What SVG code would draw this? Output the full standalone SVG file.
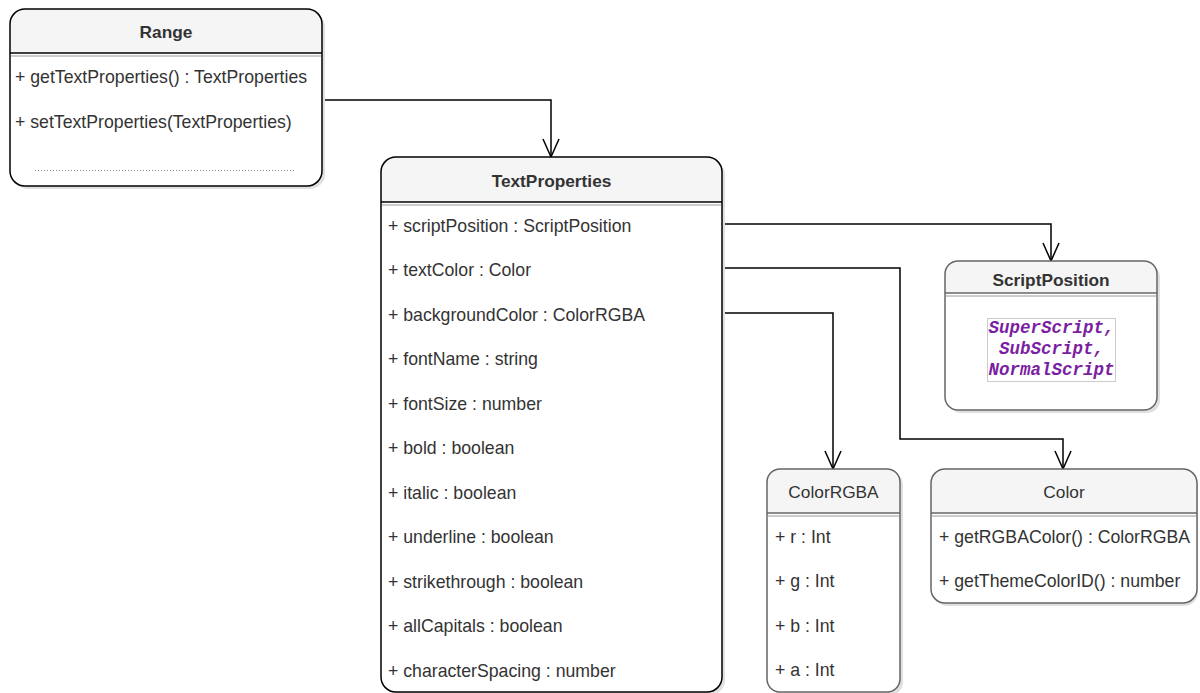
<svg xmlns="http://www.w3.org/2000/svg" width="1200" height="693" viewBox="0 0 1200 693">
<defs>
<marker id="arr" viewBox="-20 -10 22 20" refX="0" refY="0" markerWidth="22" markerHeight="20" markerUnits="userSpaceOnUse" orient="auto">
<path d="M-18,-8 L0,0 L-18,8" fill="none" stroke="#000" stroke-width="1.5"/>
</marker>
</defs>
<style>
text{font-family:"Liberation Sans",Arial,Helvetica,sans-serif;fill:#333;}
.t{font-size:17.3px;text-anchor:middle;}
.b{font-weight:bold;}
.i{font-size:17.7px;}
.sh{fill:#e0e0e0;}
.body{fill:#fff;}
.hd{fill:#f5f5f5;}
.o1{fill:none;stroke:#000;stroke-width:1.5;}
.o2{fill:none;stroke:#666;stroke-width:1.5;}
.sep1{stroke:#000;stroke-width:1.5;}
.sep2{stroke:#666;stroke-width:1.5;}
.sepg{stroke:#ccc;stroke-width:2;}
.c{fill:none;stroke:#000;stroke-width:1.5;marker-end:url(#arr);}
.enum{font-family:"Liberation Mono","Courier New",monospace;font-size:17.5px;font-weight:bold;font-style:italic;fill:#7b1fa2;text-anchor:middle;}
</style>

<g id="connectors">
<path class="c" d="M322,100 L551,100 L551,157"/>
<path class="c" d="M723,224 L1051,224 L1051,261"/>
<path class="c" d="M723,268 L900,268 L900,439 L1063,439 L1063,469"/>
<path class="c" d="M723,313 L833,313 L833,469"/>
</g>

<g id="range">
<rect class="sh" x="13" y="12" width="312" height="177" rx="15"/>
<rect class="body" x="10" y="9" width="312" height="177" rx="15"/>
<path class="hd" d="M10,53 L10,24 A15,15 0 0 1 25,9 L307,9 A15,15 0 0 1 322,24 L322,53 Z"/>
<line class="sep1" x1="10" y1="53" x2="322" y2="53"/>
<line class="sepg" x1="11" y1="56" x2="321" y2="56"/>
<rect class="o1" x="10" y="9" width="312" height="177" rx="15"/>
<text class="t b" x="166" y="38">Range</text>
<text class="i" x="15" y="83">+ getTextProperties() : TextProperties</text>
<text class="i" x="15" y="127.5">+ setTextProperties(TextProperties)</text>
<line x1="35" y1="170.5" x2="295" y2="170.5" stroke="#888" stroke-width="1" stroke-dasharray="1,2"/>
</g>

<g id="textproperties">
<rect class="sh" x="384" y="160" width="341" height="535" rx="15"/>
<rect class="body" x="381" y="157" width="341" height="535" rx="15"/>
<path class="hd" d="M381,202 L381,172 A15,15 0 0 1 396,157 L707,157 A15,15 0 0 1 722,172 L722,202 Z"/>
<line class="sep1" x1="381" y1="202" x2="722" y2="202"/>
<line class="sepg" x1="382" y1="205" x2="721" y2="205"/>
<rect class="o1" x="381" y="157" width="341" height="535" rx="15"/>
<text class="t b" x="551.5" y="187">TextProperties</text>
<text class="i" x="388" y="231.5">+ scriptPosition : ScriptPosition</text>
<text class="i" x="388" y="276">+ textColor : Color</text>
<text class="i" x="388" y="320.5">+ backgroundColor : ColorRGBA</text>
<text class="i" x="388" y="365">+ fontName : string</text>
<text class="i" x="388" y="409.5">+ fontSize : number</text>
<text class="i" x="388" y="454">+ bold : boolean</text>
<text class="i" x="388" y="498.5">+ italic : boolean</text>
<text class="i" x="388" y="543">+ underline : boolean</text>
<text class="i" x="388" y="587.5">+ strikethrough : boolean</text>
<text class="i" x="388" y="632">+ allCapitals : boolean</text>
<text class="i" x="388" y="676.5">+ characterSpacing : number</text>
</g>

<g id="scriptposition">
<rect class="sh" x="948" y="264" width="212" height="149" rx="13"/>
<rect class="body" x="945" y="261" width="212" height="149" rx="13"/>
<path class="hd" d="M945,293 L945,274 A13,13 0 0 1 958,261 L1144,261 A13,13 0 0 1 1157,274 L1157,293 Z"/>
<line class="sep2" x1="945" y1="293" x2="1157" y2="293"/>
<line class="sepg" x1="946" y1="296" x2="1156" y2="296"/>
<rect class="o2" x="945" y="261" width="212" height="149" rx="13"/>
<text class="t b" x="1051" y="286">ScriptPosition</text>
<rect x="987.5" y="318.5" width="128" height="63" fill="#fff" stroke="#ccc" stroke-width="1"/>
<text class="enum" x="1051.5" y="333">SuperScript,</text>
<text class="enum" x="1051.5" y="354">SubScript,</text>
<text class="enum" x="1051.5" y="375">NormalScript</text>
</g>

<g id="colorrgba">
<rect class="sh" x="770" y="472" width="133" height="223" rx="13"/>
<rect class="body" x="767" y="469" width="133" height="223" rx="13"/>
<path class="hd" d="M767,513 L767,482 A13,13 0 0 1 780,469 L887,469 A13,13 0 0 1 900,482 L900,513 Z"/>
<line class="sep2" x1="767" y1="513" x2="900" y2="513"/>
<line class="sepg" x1="768" y1="516" x2="899" y2="516"/>
<rect class="o2" x="767" y="469" width="133" height="223" rx="13"/>
<text class="t" x="833.5" y="498">ColorRGBA</text>
<text class="i" x="775" y="542.5">+ r : Int</text>
<text class="i" x="775" y="587">+ g : Int</text>
<text class="i" x="775" y="631.5">+ b : Int</text>
<text class="i" x="775" y="676">+ a : Int</text>
</g>

<g id="color">
<rect class="sh" x="934" y="472" width="264" height="134" rx="14"/>
<rect class="body" x="931" y="469" width="266" height="134" rx="14"/>
<path class="hd" d="M931,513 L931,483 A14,14 0 0 1 945,469 L1183,469 A14,14 0 0 1 1197,483 L1197,513 Z"/>
<line class="sep2" x1="931" y1="513" x2="1197" y2="513"/>
<line class="sepg" x1="932" y1="516" x2="1196" y2="516"/>
<rect class="o2" x="931" y="469" width="266" height="134" rx="14"/>
<text class="t" x="1064" y="498">Color</text>
<text class="i" x="939" y="542.5">+ getRGBAColor() : ColorRGBA</text>
<text class="i" x="939" y="587">+ getThemeColorID() : number</text>
</g>
</svg>
